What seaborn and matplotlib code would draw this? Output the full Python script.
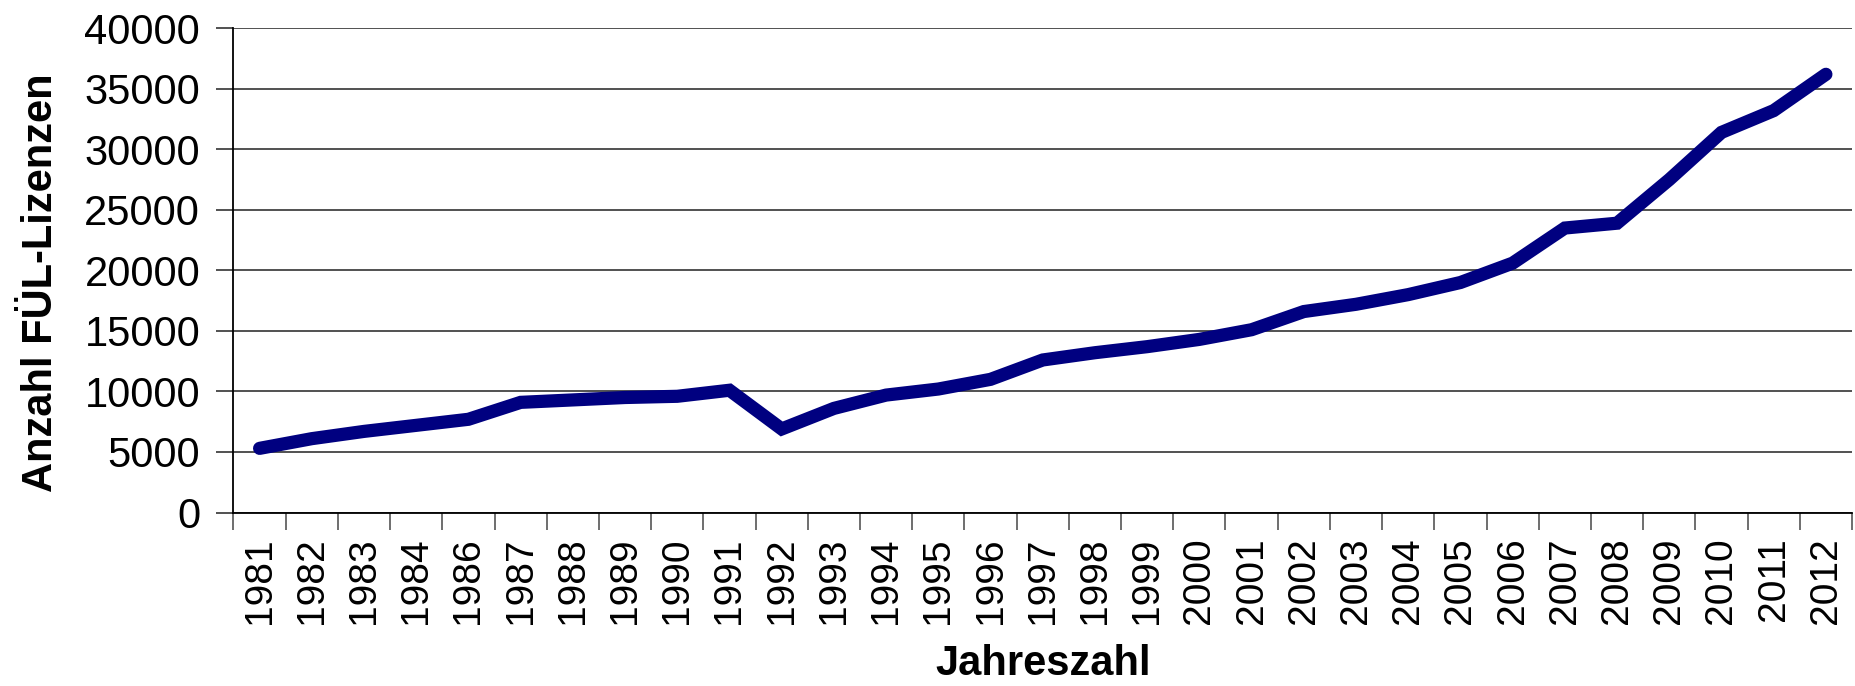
import matplotlib
matplotlib.use("Agg")
import matplotlib.pyplot as plt
from matplotlib.ticker import FixedLocator, MultipleLocator
import seaborn as sns
import pandas as pd

years = ["1981", "1982", "1983", "1984", "1986", "1987", "1988", "1989", "1990",
         "1991", "1992", "1993", "1994", "1995", "1996", "1997", "1998", "1999",
         "2000", "2001", "2002", "2003", "2004", "2005", "2006", "2007", "2008",
         "2009", "2010", "2011", "2012"]
licenses = [5300, 6100, 6700, 7200, 7700, 9100, 9300, 9500, 9600,
            10100, 6900, 8600, 9700, 10200, 11000, 12600, 13200, 13700,
            14300, 15100, 16600, 17200, 18000, 19000, 20600, 23500, 23900,
            27500, 31400, 33200, 36200]
x_label = "Jahreszahl"
y_label = "Anzahl FÜL-Lizenzen"

df = pd.DataFrame({"Jahr": years, "Lizenzen": licenses})

sns.set_theme(style="white", rc={"xtick.bottom": True, "ytick.left": True,
                                 "text.color": "black", "axes.labelcolor": "black",
                                 "xtick.color": "black", "ytick.color": "black"})
plt.rcParams["font.family"] = ["Liberation Sans", "DejaVu Sans"]

fig = plt.figure(figsize=(18.56, 6.86), dpi=100)
ax = fig.add_axes([233.5 / 1856, 1 - 512.5 / 686, (1852 - 233.5) / 1856, (512.5 - 28.3) / 686])

sns.lineplot(data=df, x="Jahr", y="Lizenzen", sort=False, ax=ax,
             color="#000080", linewidth=9.5, solid_capstyle="round",
             solid_joinstyle="miter")

n = len(years)
ax.set_xlim(-0.5, n - 0.5)
ax.set_ylim(0, 40000)
ax.yaxis.set_major_locator(MultipleLocator(5000))
ax.yaxis.grid(True, color="#333333", linewidth=1.2)
ax.xaxis.grid(False)
ax.set_axisbelow(True)

for s in ["top", "right"]:
    ax.spines[s].set_visible(False)
for s in ["left", "bottom"]:
    ax.spines[s].set_visible(True)
    ax.spines[s].set_color("black")
    ax.spines[s].set_linewidth(1.3)

ax.set_xticks(range(n))
ax.set_xticklabels(years, rotation=90)
ax.xaxis.set_minor_locator(FixedLocator([i - 0.5 for i in range(n + 1)]))
ax.tick_params(axis="x", which="major", length=0, pad=18, labelsize=28,
               labelcolor="black", bottom=True)
ax.tick_params(axis="x", which="minor", length=12, width=1.2, color="#555555",
               direction="out", bottom=True)
ax.tick_params(axis="y", which="major", length=12, width=1.2, color="#333333",
               direction="out", pad=12, labelsize=30, left=True, labelcolor="black")

ax.set_xlabel(x_label, fontsize=30, fontweight="bold", labelpad=14, color="black")
ax.set_ylabel(y_label, fontsize=30, fontweight="bold", color="black")
ax.yaxis.set_label_coords(-0.1066, 0.474)

fig.savefig("out.png", dpi=100, facecolor="white")
